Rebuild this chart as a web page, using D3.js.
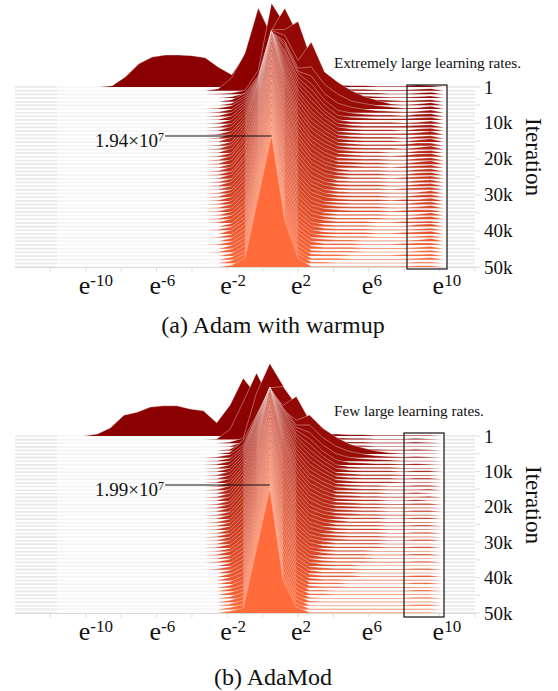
<!DOCTYPE html>
<html>
<head>
<meta charset="utf-8">
<script src="https://cdnjs.cloudflare.com/ajax/libs/d3/7.8.5/d3.min.js"></script>
<style>
  html, body { margin: 0; padding: 0; background: #fff; }
  svg { display: block; }
  text { font-family: "Liberation Serif", serif; fill: #111; }
</style>
</head>
<body>
<svg id="chart" width="558" height="691"></svg>
<script>
// tick labels
const xTickExp = [-10, -6, -2, 2, 6, 10];
const xMinorExp = [-12, -8, -4, 0, 4, 8, 12];
const iterTicks = [1, 10000, 20000, 30000, 40000, 50000];
const iterLabels = ["1", "10k", "20k", "30k", "40k", "50k"];
const iterMinor = [5000, 15000, 25000, 35000, 45000];

// counts in units of 1e5, first iteration only, bins left of the main block (nearest first)
const adamHump = [43, 46, 47, 47, 44, 34, 15, 2, 0];
const adamodHump = [40, 43, 48, 48, 46, 38, 33, 13, 3, 0];

// counts in units of 1e5, one row per iteration step, 18 log-spaced bins
const adamRows = [
[29,18,47,116,76,18,8,5,4,3,2,2,1,1,1,3,2,0],
[3,19,55,121,80,15,8,5,4,3,2,2,1,1,1,2,3,0],
[1,2,6,35,134,103,30,10,6,4,3,2,2,1,1,2,3,0],
[0,2,7,29,100,132,93,30,12,6,4,3,2,1,1,2,3,0],
[0,3,12,38,106,106,118,62,25,10,6,4,3,2,1,2,3,0],
[0,3,14,42,110,103,66,93,49,34,22,13,7,2,1,2,4,0],
[1,5,16,45,113,100,60,62,36,22,12,8,5,3,1,2,4,0],
[1,5,18,50,118,102,61,54,28,14,8,5,3,2,1,2,4,0],
[1,6,20,54,124,104,63,48,24,9,5,3,2,2,1,3,4,0],
[1,6,22,58,130,103,62,45,22,7,4,3,2,2,2,3,4,0],
[1,6,24,62,135,105,62,42,20,6,3,2,2,2,1,2,4,0],
[1,6,25,66,140,106,61,40,20,6,3,2,2,2,2,3,4,0],
[1,7,26,70,146,106,60,37,19,6,3,2,2,2,1,3,4,0],
[1,6,27,74,151,107,60,35,18,5,3,2,2,2,2,3,5,0],
[1,7,28,78,156,108,59,34,18,5,3,2,2,2,1,3,4,0],
[1,7,29,80,162,108,58,32,17,5,3,2,2,2,1,3,5,0],
[1,6,30,83,168,109,56,30,16,5,3,2,2,2,2,4,4,0],
[1,7,30,85,173,109,55,29,15,5,3,2,2,2,1,3,5,0],
[1,7,31,87,178,110,53,27,14,5,3,2,2,1,1,3,4,0],
[1,6,30,88,184,110,52,26,13,5,3,2,2,1,2,4,5,0],
[1,7,31,90,189,110,50,25,12,4,3,2,2,1,1,3,4,0],
[1,7,30,91,191,109,48,24,11,4,3,2,2,1,1,3,5,0],
[1,6,30,93,192,108,47,22,10,4,3,2,2,1,2,3,4,0],
[1,7,31,94,193,107,46,21,10,4,2,2,2,1,1,3,4,0],
[1,6,29,95,192,106,44,20,9,4,2,2,2,1,1,3,4,0],
[1,7,30,96,193,105,42,19,8,4,2,2,2,1,2,3,4,0],
[1,6,29,97,192,104,41,18,8,3,2,2,2,1,1,3,4,0],
[1,7,28,98,193,103,40,16,7,3,2,2,2,1,1,3,4,0],
[1,6,28,98,194,102,38,15,7,3,2,2,2,1,2,3,4,0],
[1,6,27,99,193,101,36,15,6,3,2,2,2,1,1,2,4,0],
[1,7,27,100,194,100,35,14,6,3,2,2,2,1,1,3,4,0],
[1,6,26,100,193,99,34,13,6,3,2,2,2,1,2,2,4,0],
[1,6,25,101,194,97,33,12,5,3,2,2,2,1,1,3,4,0],
[1,6,25,101,193,96,31,11,5,3,2,2,2,1,1,2,4,0],
[1,6,24,102,194,94,30,10,5,3,2,2,2,1,2,3,3,0],
[1,6,23,102,193,93,29,10,4,2,2,2,2,1,1,2,4,0],
[1,6,22,102,194,91,27,9,4,2,2,2,2,1,1,3,4,0],
[1,6,22,103,193,90,26,8,4,2,2,2,1,1,2,2,3,0],
[0,5,21,103,194,88,24,7,3,2,2,2,1,1,1,3,4,0],
[1,5,20,103,193,87,23,7,3,2,2,2,1,1,1,2,3,0],
[0,6,20,103,194,85,22,6,3,2,2,2,1,1,2,3,4,0],
[1,5,19,103,193,83,21,6,3,2,2,2,1,1,1,2,3,0],
[0,5,18,104,194,81,20,5,3,2,2,1,1,1,1,2,4,0],
[1,5,17,104,193,79,19,5,2,2,2,1,1,1,2,3,3,0],
[0,5,16,104,194,77,18,4,2,2,2,1,1,1,1,2,3,0],
[1,5,16,104,193,75,17,3,2,2,2,1,1,1,1,2,3,0],
[0,4,15,104,194,74,15,3,2,2,1,1,1,1,2,2,3,0],
[0,4,14,104,193,72,14,2,2,2,1,1,1,1,1,2,3,0],
[0,4,14,104,194,70,14,2,2,1,1,1,1,1,1,2,2,0],
[0,3,13,104,194,69,13,1,1,1,1,1,1,1,1,2,2,0]
];

const adamodRows = [
[21,49,92,65,40,10,6,4,3,3,2,2,1,1,1,1,1,0],
[1,16,60,106,64,12,6,4,3,3,2,2,1,1,1,2,1,0],
[0,2,8,80,127,92,32,10,5,3,2,2,1,1,1,2,1,0],
[0,1,8,40,94,96,67,22,6,3,2,2,1,1,1,1,1,0],
[0,2,13,48,96,72,86,48,20,5,3,2,2,1,1,2,1,0],
[0,3,22,62,102,70,54,62,41,27,16,10,5,2,1,1,1,0],
[1,5,20,66,111,80,52,52,32,18,10,6,3,2,1,2,1,0],
[1,5,22,70,117,84,54,46,26,12,6,4,3,2,1,1,1,0],
[1,6,24,74,123,88,55,42,22,8,4,3,2,2,1,2,1,0],
[1,6,26,78,128,92,55,39,20,6,3,2,2,2,1,1,1,0],
[1,6,28,82,134,95,56,36,19,6,3,2,2,2,1,2,2,0],
[1,7,29,85,140,97,56,34,18,5,3,2,2,2,1,1,1,0],
[1,7,30,88,146,99,55,32,17,5,3,2,2,2,1,2,2,0],
[1,7,31,90,152,101,54,30,16,5,3,2,2,2,1,1,1,0],
[1,7,31,92,158,103,53,28,15,5,3,2,2,1,1,2,2,0],
[1,7,32,94,163,105,52,26,14,5,3,2,2,1,1,1,2,0],
[1,7,32,96,169,106,50,25,13,4,3,2,2,1,1,2,1,0],
[1,7,32,97,175,107,49,23,12,4,3,2,2,1,1,1,2,0],
[1,7,32,98,180,108,48,22,11,4,3,2,2,1,1,2,1,0],
[1,6,32,99,186,109,46,21,10,4,3,2,2,1,1,2,2,0],
[1,7,31,100,192,110,45,20,9,4,3,2,2,1,1,1,1,0],
[1,7,31,100,196,110,43,19,9,4,3,2,2,1,1,2,2,0],
[1,6,30,101,198,109,42,17,8,4,3,2,2,1,1,1,1,0],
[1,7,30,101,197,108,40,16,8,4,2,2,2,1,1,2,2,0],
[1,6,29,102,198,107,39,15,7,4,2,2,2,1,1,1,1,0],
[1,6,28,102,197,106,37,14,7,3,2,2,2,1,1,2,2,0],
[1,6,27,102,198,105,36,13,6,3,2,2,2,1,1,1,1,0],
[1,6,27,103,199,104,34,12,6,3,2,2,2,1,1,2,2,0],
[1,6,26,103,198,102,33,11,5,3,2,2,2,1,1,1,1,0],
[1,6,25,103,199,100,31,10,5,3,2,2,2,1,1,2,2,0],
[1,6,24,103,198,98,30,10,5,2,2,2,2,1,1,1,1,0],
[1,6,23,103,199,96,28,9,4,2,2,2,2,1,1,2,2,0],
[1,5,22,103,198,94,27,8,4,2,2,2,1,1,1,1,1,0],
[1,6,21,103,199,92,25,8,4,2,2,2,1,1,1,2,2,0],
[1,5,20,103,198,90,24,7,3,2,2,2,1,1,1,1,1,0],
[1,5,19,103,199,87,23,6,3,2,2,2,1,1,1,2,2,0],
[0,5,18,103,198,85,21,6,3,2,2,1,1,1,1,1,1,0],
[1,5,17,103,199,83,20,5,3,2,2,1,1,1,1,2,2,0],
[0,5,16,103,198,80,19,5,2,2,2,1,1,1,1,1,1,0],
[0,5,15,103,199,78,18,4,2,2,2,1,1,1,1,2,2,0],
[0,5,14,103,198,75,17,4,2,2,1,1,1,1,1,1,1,0],
[0,4,13,103,199,72,16,3,2,2,1,1,1,1,1,2,2,0],
[0,4,12,103,198,70,15,3,2,2,1,1,1,1,1,1,1,0],
[0,4,11,103,199,67,14,2,2,1,1,1,1,1,1,2,2,0],
[0,4,10,103,198,64,13,2,2,1,1,1,1,1,1,1,1,0],
[0,3,10,103,199,61,12,2,1,1,1,1,1,1,1,2,2,0],
[0,3,9,103,198,58,11,2,1,1,1,1,1,1,1,1,1,0],
[0,3,9,103,199,56,11,1,1,1,1,1,1,1,1,2,2,0],
[0,3,8,103,198,54,10,1,1,1,1,1,1,1,1,1,1,0],
[0,3,8,103,199,53,10,1,1,1,1,1,1,1,1,1,1,0]
];

const svg = d3.select("#chart");
const binStep = 0.75;
const colorScale = d3.scaleLinear().domain([0, 49]).range(["#8b0000", "#ff6b3b"]);

function drawPanel(p) {
  const g = svg.append("g");
  const x = d3.scaleLinear().domain([-14, 12]).range([15, 475]);
  const yIter = d3.scaleLinear().domain([1, 50000]).range([p.top, p.bottom]);
  const h = d3.scaleLinear().domain([0, p.peak]).range([0, p.peakPx]);
  const iterOf = r => 1 + r * (49999 / 49);

  // bin positions on the log axis, index 4 of each row is the tallest bin
  const binU = i => p.centerU + (i - 4) * binStep;

  p.rows.forEach((row, r) => {
    const base = yIter(iterOf(r));
    g.append("line").attr("x1", x(-14)).attr("x2", x(12)).attr("y1", base).attr("y2", base)
      .attr("stroke", "#f4f4f4").attr("stroke-width", 1.6);
    g.append("line").attr("x1", x(-14)).attr("x2", 57).attr("y1", base).attr("y2", base)
      .attr("stroke", "#e9e9e9").attr("stroke-width", 1.6);
    g.append("line").attr("x1", p.boxX2).attr("x2", x(12)).attr("y1", base).attr("y2", base)
      .attr("stroke", "#e9e9e9").attr("stroke-width", 1.6);

    let pts = row.map((v, i) => ({u: binU(i), v: v}));
    if (r === 0) {
      const left = p.hump.map((v, i) => ({u: binU(-1 - i), v: v})).reverse();
      pts = left.concat(pts);
    } else {
      pts = [{u: binU(-1), v: 0}].concat(pts);
    }

    const area = d3.area().x(d => x(d.u)).y0(base).y1(d => base - h(d.v));
    const line = d3.line().x(d => x(d.u)).y(d => base - h(d.v));
    g.append("path").attr("d", area(pts)).attr("fill", colorScale(r));
    g.append("path").attr("d", line(pts)).attr("fill", "none")
      .attr("stroke", "#fff").attr("stroke-opacity", 0.65).attr("stroke-width", 0.55);
  });

  // x axis
  const axisY = p.bottom + 0.5;
  g.append("line").attr("x1", x(-14)).attr("x2", x(12)).attr("y1", axisY).attr("y2", axisY)
    .attr("stroke", "#d4d4d4").attr("stroke-width", 0.8);
  xTickExp.concat(xMinorExp).forEach(e => {
    g.append("line").attr("x1", x(e)).attr("x2", x(e)).attr("y1", axisY).attr("y2", axisY + 4)
      .attr("stroke", "#d4d4d4").attr("stroke-width", 0.8);
  });
  xTickExp.forEach(e => {
    const t = g.append("text").attr("x", x(e) - 7).attr("y", p.bottom + 27)
      .attr("font-size", 26).text("e");
    t.append("tspan").attr("dy", -8).attr("font-size", 17).text(e);
  });

  // iteration axis on the right
  iterTicks.forEach((v, i) => {
    g.append("line").attr("x1", 475).attr("x2", 480).attr("y1", yIter(v)).attr("y2", yIter(v))
      .attr("stroke", "#d4d4d4").attr("stroke-width", 0.8);
    g.append("text").attr("x", 484).attr("y", yIter(v) + 6.5)
      .attr("font-size", 19).text(iterLabels[i]);
  });
  iterMinor.forEach(v => {
    g.append("line").attr("x1", 475).attr("x2", 480).attr("y1", yIter(v)).attr("y2", yIter(v))
      .attr("stroke", "#d4d4d4").attr("stroke-width", 0.8);
  });
  g.append("text").attr("transform", `translate(526,${p.titleY}) rotate(90)`)
    .attr("text-anchor", "middle").attr("font-size", 23).text("Iteration");

  // box around the large learning rates
  g.append("rect").attr("x", p.boxX1).attr("y", p.boxY1)
    .attr("width", p.boxX2 - p.boxX1).attr("height", p.boxY2 - p.boxY1)
    .attr("fill", "none").attr("stroke", "#111").attr("stroke-width", 1.2);
  g.append("text").attr("x", 334).attr("y", p.noteY).attr("font-size", 15.2).text(p.note);

  // peak label
  g.append("line").attr("x1", 165).attr("x2", x(p.centerU)).attr("y1", p.peakY).attr("y2", p.peakY)
    .attr("stroke", "#111").attr("stroke-width", 1);
  const pk = g.append("text").attr("x", 95).attr("y", p.peakY + 11).attr("font-size", 19).text(p.peakText);
  pk.append("tspan").attr("dy", -6).attr("font-size", 12).text("7");

  svg.append("text").attr("x", 273).attr("y", p.captionY).attr("text-anchor", "middle")
    .attr("font-size", 24).text(p.caption);
}

drawPanel({
  rows: adamRows, hump: adamHump, centerU: 0.5, peak: 194, peakPx: 132,
  top: 87, bottom: 267, titleY: 157,
  boxX1: 407, boxX2: 447, boxY1: 85, boxY2: 269,
  note: "Extremely large learning rates.", noteY: 68,
  peakY: 136, peakText: "1.94×10", caption: "(a) Adam with warmup", captionY: 333
});

drawPanel({
  rows: adamodRows, hump: adamodHump, centerU: 0.4, peak: 199, peakPx: 125,
  top: 436, bottom: 613, titleY: 505,
  boxX1: 404, boxX2: 444, boxY1: 433, boxY2: 617,
  note: "Few large learning rates.", noteY: 416,
  peakY: 485, peakText: "1.99×10", caption: "(b) AdaMod", captionY: 685
});
</script>
</body>
</html>
